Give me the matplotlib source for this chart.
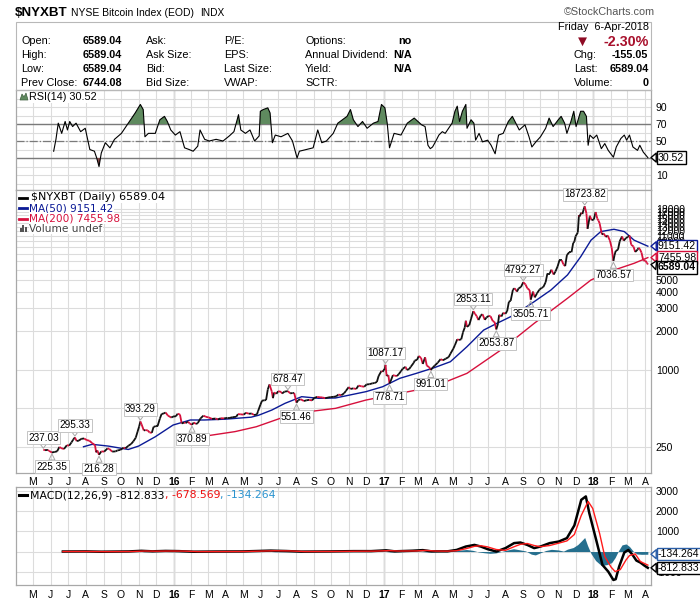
import matplotlib
matplotlib.use("Agg")
import matplotlib.pyplot as plt
import matplotlib.dates as mdates
from matplotlib.collections import LineCollection
from matplotlib.patches import Rectangle, Polygon
from matplotlib.lines import Line2D
from matplotlib.ticker import NullLocator
import numpy as np

# ---- data ----
price_dates = [
    "2015-05-19", "2015-05-22", "2015-05-27", "2015-05-29", "2015-06-03", "2015-06-08", "2015-06-12", "2015-06-16",
    "2015-06-19", "2015-06-24", "2015-06-29", "2015-07-03", "2015-07-07", "2015-07-10", "2015-07-13", "2015-07-16",
    "2015-07-20", "2015-07-24", "2015-07-29", "2015-08-03", "2015-08-07", "2015-08-12", "2015-08-17", "2015-08-19",
    "2015-08-21", "2015-08-24", "2015-08-28", "2015-09-02", "2015-09-08", "2015-09-11", "2015-09-16", "2015-09-22",
    "2015-09-25", "2015-09-30", "2015-10-06", "2015-10-09", "2015-10-14", "2015-10-19", "2015-10-23", "2015-10-27",
    "2015-10-30", "2015-11-02", "2015-11-04", "2015-11-06", "2015-11-10", "2015-11-13", "2015-11-17", "2015-11-20",
    "2015-11-24", "2015-11-27", "2015-12-01", "2015-12-04", "2015-12-08", "2015-12-11", "2015-12-15", "2015-12-18",
    "2015-12-22", "2015-12-28", "2015-12-31", "2016-01-05", "2016-01-08", "2016-01-12", "2016-01-15", "2016-01-19",
    "2016-01-22", "2016-01-26", "2016-01-29", "2016-02-02", "2016-02-05", "2016-02-09", "2016-02-12", "2016-02-17",
    "2016-02-22", "2016-02-26", "2016-03-02", "2016-03-08", "2016-03-14", "2016-03-18", "2016-03-23", "2016-03-29",
    "2016-04-04", "2016-04-08", "2016-04-13", "2016-04-19", "2016-04-22", "2016-04-27", "2016-05-02", "2016-05-06",
    "2016-05-11", "2016-05-16", "2016-05-20", "2016-05-25", "2016-05-27", "2016-05-31", "2016-06-03", "2016-06-07",
    "2016-06-10", "2016-06-13", "2016-06-16", "2016-06-20", "2016-06-22", "2016-06-24", "2016-06-28", "2016-07-01",
    "2016-07-06", "2016-07-08", "2016-07-12", "2016-07-18", "2016-07-22", "2016-07-26", "2016-07-29", "2016-08-02",
    "2016-08-05", "2016-08-09", "2016-08-15", "2016-08-19", "2016-08-24", "2016-08-29", "2016-09-02", "2016-09-07",
    "2016-09-12", "2016-09-16", "2016-09-21", "2016-09-26", "2016-09-30", "2016-10-05", "2016-10-10", "2016-10-14",
    "2016-10-19", "2016-10-24", "2016-10-27", "2016-11-01", "2016-11-04", "2016-11-09", "2016-11-14", "2016-11-18",
    "2016-11-23", "2016-11-28", "2016-12-02", "2016-12-07", "2016-12-12", "2016-12-16", "2016-12-20", "2016-12-23",
    "2016-12-28", "2016-12-30", "2017-01-03", "2017-01-04", "2017-01-06", "2017-01-09", "2017-01-11", "2017-01-13",
    "2017-01-17", "2017-01-20", "2017-01-24", "2017-01-27", "2017-01-31", "2017-02-03", "2017-02-08", "2017-02-10",
    "2017-02-14", "2017-02-17", "2017-02-22", "2017-02-24", "2017-02-28", "2017-03-03", "2017-03-07", "2017-03-10",
    "2017-03-14", "2017-03-17", "2017-03-21", "2017-03-24", "2017-03-28", "2017-03-31", "2017-04-05", "2017-04-10",
    "2017-04-14", "2017-04-19", "2017-04-24", "2017-04-27", "2017-05-02", "2017-05-05", "2017-05-09", "2017-05-12",
    "2017-05-16", "2017-05-19", "2017-05-22", "2017-05-24", "2017-05-26", "2017-05-30", "2017-06-02", "2017-06-06",
    "2017-06-09", "2017-06-12", "2017-06-15", "2017-06-19", "2017-06-22", "2017-06-26", "2017-06-29", "2017-07-03",
    "2017-07-06", "2017-07-10", "2017-07-13", "2017-07-16", "2017-07-19", "2017-07-21", "2017-07-25", "2017-07-28",
    "2017-08-01", "2017-08-04", "2017-08-07", "2017-08-10", "2017-08-14", "2017-08-17", "2017-08-21", "2017-08-24",
    "2017-08-28", "2017-09-01", "2017-09-05", "2017-09-08", "2017-09-12", "2017-09-14", "2017-09-18", "2017-09-21",
    "2017-09-25", "2017-09-29", "2017-10-03", "2017-10-06", "2017-10-10", "2017-10-13", "2017-10-17", "2017-10-20",
    "2017-10-24", "2017-10-27", "2017-10-31", "2017-11-03", "2017-11-07", "2017-11-10", "2017-11-13", "2017-11-16",
    "2017-11-20", "2017-11-24", "2017-11-27", "2017-11-29", "2017-12-01", "2017-12-05", "2017-12-07", "2017-12-08",
    "2017-12-11", "2017-12-13", "2017-12-15", "2017-12-17", "2017-12-20", "2017-12-22", "2017-12-26", "2017-12-29",
    "2018-01-02", "2018-01-05", "2018-01-08", "2018-01-10", "2018-01-12", "2018-01-16", "2018-01-19", "2018-01-23",
    "2018-01-26", "2018-01-30", "2018-02-02", "2018-02-05", "2018-02-07", "2018-02-09", "2018-02-13", "2018-02-16",
    "2018-02-20", "2018-02-23", "2018-02-27", "2018-03-02", "2018-03-05", "2018-03-08", "2018-03-12", "2018-03-15",
    "2018-03-19", "2018-03-21", "2018-03-23", "2018-03-26", "2018-03-29", "2018-04-02", "2018-04-04", "2018-04-05",
    "2018-04-06",
]
price_close = [
    237.03, 235, 236, 232, 225.35, 228, 230, 249,
    244, 240, 257, 255, 270, 284, 295.33, 277,
    279, 288, 290, 281, 279, 267, 257, 226,
    234, 216.28, 230, 229, 243, 240, 229, 230,
    234, 236, 246, 243, 254, 263, 276, 294,
    326, 361, 393.29, 375, 335, 337, 335, 323,
    321, 357, 362, 362, 414, 450, 455, 462,
    437, 422, 430, 432, 452, 446, 380, 385,
    383, 392, 379, 370.89, 386, 376, 382, 417,
    437, 428, 423, 412, 415, 408, 417, 416,
    420, 420, 425, 428, 449, 447, 445, 460,
    452, 454, 442, 446, 473, 530, 572, 575,
    578, 700, 765, 672, 598, 662, 646, 677,
    670, 650, 672, 678.47, 652, 655, 656, 551.46,
    576, 587, 568, 575, 580, 574, 600, 612,
    607, 606, 597, 605, 609, 612, 617, 638,
    630, 653, 681, 730, 705, 713, 705, 750,
    740, 734, 765, 768, 780, 785, 800, 890,
    975, 960, 1020, 1087.17, 890, 905, 778.71, 812,
    905, 895, 890, 920, 970, 1015, 1050, 995,
    1005, 1050, 1125, 1175, 1190, 1275, 1230, 1105,
    1245, 1070, 1045, 991.01, 1045, 1075, 1130, 1205,
    1180, 1215, 1250, 1325, 1450, 1550, 1720, 1700,
    1720, 1950, 2120, 2400, 2150, 2220, 2480, 2853.11,
    2720, 2600, 2430, 2640, 2700, 2440, 2550, 2620,
    2600, 2380, 2350, 2053.87, 2280, 2670, 2590, 2770,
    2720, 2860, 3380, 3430, 4200, 4300, 4050, 4300,
    4400, 4792.27, 4600, 4300, 4170, 3505.71, 4050, 3650,
    3930, 4190, 4330, 4400, 4800, 5600, 5600, 6000,
    5500, 5800, 6400, 7100, 7100, 6600, 6400, 7800,
    8200, 8200, 9700, 9900, 10900, 11700, 16000, 15600,
    16700, 16300, 17600, 18723.82, 16500, 12500, 15800, 14600,
    14800, 16900, 15000, 14500, 13800, 11300, 11500, 10800,
    11100, 10100, 8900, 7036.57, 7800, 8400, 8600, 10000,
    10900, 10100, 10600, 10800, 11100, 9400, 9100, 8250,
    8600, 8900, 8700, 8150, 7100, 7050, 6800, 6744.08,
    6589.04,
]

ma50_dates = ["2015-07-28", "2015-08-12", "2015-09-09", "2015-10-14", "2015-11-01", "2015-11-30", "2015-12-31",
              "2016-01-30", "2016-02-23", "2016-03-31", "2016-05-15", "2016-05-28", "2016-06-20", "2016-07-13",
              "2016-08-11", "2016-09-10", "2016-10-09", "2016-12-01", "2016-12-30", "2017-01-29", "2017-02-27",
              "2017-03-29", "2017-04-27", "2017-05-26", "2017-06-24", "2017-07-17", "2017-08-16", "2017-09-20",
              "2017-10-19", "2017-11-17", "2017-12-10", "2017-12-28", "2018-01-14", "2018-02-06", "2018-02-24",
              "2018-03-13", "2018-04-06"]
ma50_vals = [250, 261, 253, 238, 253, 299, 369,
             404, 404, 410, 425, 440, 483, 545,
             614, 596, 600, 672, 734, 854, 934,
             1030, 1150, 1507, 2030, 2290, 2660, 3380,
             4160, 5460, 7570, 10200, 11900, 12400, 11900,
             10200, 9151.42]

ma200_dates = ["2016-03-01", "2016-04-17", "2016-05-24", "2016-07-13", "2016-08-23", "2016-10-09", "2016-12-01",
               "2017-01-29", "2017-03-29", "2017-05-26", "2017-07-24", "2017-09-20", "2017-11-17", "2017-12-28",
               "2018-02-06", "2018-03-13", "2018-04-06"]
ma200_vals = [305, 328, 358, 429, 469, 498, 578,
              652, 735, 934, 1419, 2290, 3590, 4990,
              5960, 6730, 7455.98]

swing_highs = ["2015-05-19", "2015-07-13", "2015-11-04", "2016-07-18", "2017-01-04", "2017-06-06",
               "2017-09-01", "2017-12-17"]
swing_lows = ["2015-06-03", "2015-08-24", "2016-02-02", "2016-08-02", "2017-01-11", "2017-03-24",
              "2017-07-16", "2017-09-14", "2018-02-05"]

rsi_dates = [
    "2015-06-06", "2015-06-10", "2015-06-14", "2015-06-20", "2015-06-26", "2015-06-30", "2015-07-04", "2015-07-09",
    "2015-07-15", "2015-07-23", "2015-07-31", "2015-08-08", "2015-08-16", "2015-08-20", "2015-08-24", "2015-08-28",
    "2015-09-04", "2015-09-12", "2015-09-20", "2015-10-02", "2015-10-14", "2015-10-26", "2015-11-04", "2015-11-09",
    "2015-11-12", "2015-11-18", "2015-11-30", "2015-12-08", "2015-12-16", "2015-12-21", "2015-12-27", "2016-01-04",
    "2016-01-12", "2016-01-20", "2016-01-28", "2016-02-04", "2016-02-12", "2016-02-16", "2016-02-24", "2016-03-03",
    "2016-03-15", "2016-03-27", "2016-04-07", "2016-04-15", "2016-04-23", "2016-04-27", "2016-05-05", "2016-05-13",
    "2016-05-21", "2016-05-29", "2016-05-31", "2016-06-05", "2016-06-13", "2016-06-17", "2016-06-21", "2016-06-26",
    "2016-07-06", "2016-07-18", "2016-07-26", "2016-08-03", "2016-08-07", "2016-08-19", "2016-08-31", "2016-09-08",
    "2016-09-15", "2016-09-23", "2016-10-05", "2016-10-13", "2016-10-21", "2016-10-29", "2016-11-04", "2016-11-09",
    "2016-11-17", "2016-11-25", "2016-12-03", "2016-12-14", "2016-12-22", "2016-12-28", "2017-01-03", "2017-01-07",
    "2017-01-11", "2017-01-19", "2017-01-31", "2017-02-11", "2017-02-23", "2017-03-08", "2017-03-14", "2017-03-19",
    "2017-03-23", "2017-03-27", "2017-04-01", "2017-04-07", "2017-04-13", "2017-04-18", "2017-04-24", "2017-04-30",
    "2017-05-05", "2017-05-09", "2017-05-13", "2017-05-18", "2017-05-24", "2017-05-26", "2017-06-02", "2017-06-07",
    "2017-06-10", "2017-06-16", "2017-06-22", "2017-07-01", "2017-07-07", "2017-07-14", "2017-07-20", "2017-07-28",
    "2017-08-06", "2017-08-13", "2017-08-19", "2017-08-25", "2017-09-04", "2017-09-11", "2017-09-16", "2017-09-23",
    "2017-10-01", "2017-10-10", "2017-10-16", "2017-10-23", "2017-11-01", "2017-11-06", "2017-11-12", "2017-11-16",
    "2017-11-23", "2017-11-28", "2017-12-02", "2017-12-10", "2017-12-15", "2017-12-20", "2017-12-23", "2017-12-26",
    "2018-01-01", "2018-01-07", "2018-01-15", "2018-01-21", "2018-01-27", "2018-02-05", "2018-02-10", "2018-02-18",
    "2018-02-24", "2018-02-28", "2018-03-05", "2018-03-11", "2018-03-19", "2018-03-23", "2018-03-29", "2018-04-06",
]
rsi_vals = [
    38, 52, 71, 59, 73, 63, 73, 67,
    71, 61, 65, 40, 38, 30, 20, 36,
    48, 42, 52, 59, 71, 83, 93, 87,
    55, 59, 59, 75, 79, 73, 63, 57,
    61, 42, 40, 38, 44, 63, 52, 50,
    52, 50, 56, 61, 81, 63, 59, 63,
    50, 56, 85, 87, 89, 83, 48, 57,
    55, 59, 50, 30, 38, 40, 42, 63,
    48, 50, 59, 71, 75, 79, 87, 75,
    67, 73, 65, 71, 73, 93, 89, 71,
    42, 59, 57, 71, 77, 69, 67, 45,
    41, 43, 49, 57, 61, 59, 65, 71,
    85, 91, 73, 85, 93, 65, 75, 71,
    51, 59, 49, 51, 45, 35, 57, 59,
    73, 79, 71, 63, 69, 55, 43, 49,
    55, 65, 77, 67, 75, 79, 71, 59,
    73, 85, 67, 85, 85, 79, 45, 57,
    53, 57, 41, 47, 39, 31, 43, 53,
    57, 51, 57, 43, 39, 45, 37, 30.52,
]

macd_dates = ["2015-06-22", "2015-08-01", "2015-08-28", "2015-10-15", "2015-11-06", "2015-11-25", "2015-12-18",
              "2016-01-10", "2016-02-05", "2016-03-15", "2016-05-01", "2016-06-18", "2016-07-15", "2016-08-10",
              "2016-10-01", "2016-11-10", "2016-12-10", "2017-01-05", "2017-01-20", "2017-02-20", "2017-03-10",
              "2017-03-25", "2017-04-22", "2017-05-08", "2017-05-24", "2017-06-08", "2017-06-19", "2017-07-01",
              "2017-07-16", "2017-08-01", "2017-08-16", "2017-08-27", "2017-09-08", "2017-09-20", "2017-10-01",
              "2017-10-17", "2017-11-02", "2017-11-16", "2017-11-29", "2017-12-11", "2017-12-19", "2017-12-25",
              "2018-01-06", "2018-01-17", "2018-01-27", "2018-02-05", "2018-02-09", "2018-02-15", "2018-02-24",
              "2018-03-03", "2018-03-10", "2018-03-17", "2018-03-24", "2018-03-31", "2018-04-06"]
macd_vals = [0, 5, -10, 5, 35, 10, 30,
             20, -10, 0, 5, 45, 25, -5,
             5, 20, 20, 60, 10, 40, 70,
             10, 10, 80, 250, 330, 250, 117,
             0, 170, 420, 450, 330, 170, 250,
             420, 500, 670, 1300, 2580, 2750, 1920,
             580, -670, -1000, -1420, -1380, -750, -50,
             80, -150, -450, -550, -700, -812.833]

signal_dates = ["2015-06-22", "2015-08-01", "2015-09-05", "2015-10-20", "2015-11-12", "2015-12-01", "2015-12-24",
                "2016-01-18", "2016-02-12", "2016-03-20", "2016-05-05", "2016-06-24", "2016-07-22", "2016-08-16",
                "2016-10-05", "2016-11-16", "2016-12-16", "2017-01-10", "2017-01-26", "2017-02-26", "2017-03-15",
                "2017-04-01", "2017-04-22", "2017-05-08", "2017-05-24", "2017-06-08", "2017-06-19", "2017-07-01",
                "2017-07-16", "2017-08-01", "2017-08-16", "2017-08-27", "2017-09-08", "2017-09-20", "2017-10-01",
                "2017-10-17", "2017-11-02", "2017-11-16", "2017-11-29", "2017-12-11", "2017-12-23", "2017-12-31",
                "2018-01-12", "2018-01-21", "2018-02-01", "2018-02-08", "2018-02-17", "2018-02-27", "2018-03-05",
                "2018-03-15", "2018-03-24", "2018-04-06"]
signal_vals = [0, 3, -6, 2, 25, 18, 25,
               22, -4, -2, 3, 38, 30, 0,
               3, 15, 20, 45, 25, 30, 55,
               25, 20, 40, 140, 260, 290, 230,
               100, 60, 240, 360, 400, 300, 240,
               300, 420, 530, 850, 1800, 2500, 2150,
               900, -250, -780, -1000, -900, -420, -200,
               -120, -500, -678.569]

hist_dates = ["2015-06-22", "2015-11-01", "2015-11-10", "2015-12-10", "2016-01-15", "2016-06-10", "2016-06-25",
              "2016-11-05", "2016-12-28", "2017-01-12", "2017-02-25", "2017-03-20", "2017-04-10", "2017-04-25",
              "2017-05-10", "2017-05-25", "2017-06-05", "2017-06-15", "2017-06-25", "2017-07-05", "2017-07-15",
              "2017-07-25", "2017-08-05", "2017-08-15", "2017-08-25", "2017-09-05", "2017-09-15", "2017-09-22",
              "2017-10-01", "2017-10-10", "2017-10-20", "2017-11-01", "2017-11-10", "2017-11-17", "2017-11-27",
              "2017-12-05", "2017-12-12", "2017-12-17", "2017-12-22", "2017-12-28", "2018-01-05", "2018-01-15",
              "2018-01-25", "2018-02-02", "2018-02-08", "2018-02-14", "2018-02-20", "2018-02-27", "2018-03-05",
              "2018-03-12", "2018-03-18", "2018-03-26", "2018-04-06"]
hist_vals = [0, 15, -10, 15, -10, 20, -15,
             10, 25, -25, 15, -30, 0, 30,
             60, 100, 60, -20, -60, -90, -70,
             0, 80, 140, 90, 30, -130, -170,
             -60, 50, 110, 80, 20, 120, 200,
             350, 550, 700, 300, -100, -450, -700,
             -650, -550, -300, 50, 330, 380, 250,
             0, -120, -140, -134.264]

price_ticks = [250, 500, 1000, 2000, 3000, 4000, 5000, 6000, 7000, 8000, 9000, 10000, 11000,
               12000, 13000, 14000, 15000, 16000, 17000, 18000]
price_tick_labels = ["250", "", "1000", "2000", "3000", "4000", "5000", "", "", "", "", "10000",
                     "11000", "12000", "13000", "14000", "15000", "16000", "17000", "18000"]
rsi_ticks = [10, 50, 70, 90]
macd_ticks = [-1000, 0, 1000, 2000, 3000]
month_letters = ["J", "F", "M", "A", "M", "J", "J", "A", "S", "O", "N", "D"]

# ---- layout helpers (pixel positions of the 700x603 picture) ----
W, H = 700, 603
plt.rcParams["font.family"] = ["Liberation Sans", "DejaVu Sans"]
plt.rcParams["axes.unicode_minus"] = False
INFO_FS = 7.8


def fp(x, y):
    return (x / W, 1 - y / H)


def rect(x0, y0, x1, y1):
    return [x0 / W, 1 - y1 / H, (x1 - x0) / W, (y1 - y0) / H]


def dn(lst):
    return mdates.date2num(np.array(lst, dtype="datetime64[D]"))


GRID = "#dcdcdc"
YEARGRID = "#b4b4b4"
SPINE = "#a8a8a8"
RED = "#d6103c"
NAVY = "#0b1a96"
TEAL = "#256f8e"

fig = plt.figure(figsize=(W / 100, H / 100), dpi=100)

# ---- header ----
fig.text(*fp(15, 12.5), "$NYXBT", fontsize=9.6, fontweight="bold", va="center")
fig.text(*fp(71, 13), "NYSE Bitcoin Index (EOD)", fontsize=7.5, va="center")
fig.text(*fp(200, 13), "INDX", fontsize=7.3, va="center")
fig.text(*fp(655, 12), "\u00a9StockCharts.com", fontsize=7.8, va="center", ha="right", color="#555555")
fig.add_artist(Rectangle(fp(16, 90), 635 / W, 68.5 / H, transform=fig.transFigure,
                         fill=False, ec="#b8b8b8", lw=0.8))

rows = [41.5, 55.3, 69.3, 83.3]
info_cols = [
    (21, ["Open:", "High:", "Low:", "Prev Close:"], "normal"),
    (83, ["6589.04", "6589.04", "6589.04", "6744.08"], "bold"),
    (146, ["Ask:", "Ask Size:", "Bid:", "Bid Size:"], "normal"),
    (224, ["P/E:", "EPS:", "Last Size:", "VWAP:"], "normal"),
    (305, ["Options:", "Annual Dividend:", "Yield:", "SCTR:"], "normal"),
]
for x, texts, weight in info_cols:
    for y, t in zip(rows, texts):
        fig.text(*fp(x, y), t, fontsize=INFO_FS, fontweight=weight, va="center")
fig.text(*fp(398, rows[0]), "no", fontsize=INFO_FS, fontweight="bold", va="center")
fig.text(*fp(393, rows[1]), "N/A", fontsize=INFO_FS, fontweight="bold", va="center")
fig.text(*fp(393, rows[2]), "N/A", fontsize=INFO_FS, fontweight="bold", va="center")

fig.text(*fp(648.5, 27), "Friday  6-Apr-2018", fontsize=INFO_FS, va="center", ha="right")
fig.text(*fp(582, rows[0] + 0.5), "\u25bc", fontsize=11, va="center", ha="center", color="#8e0b24")
fig.text(*fp(648.5, rows[0]), "-2.30%", fontsize=10.3, fontweight="bold", va="center",
         ha="right", color="#a8102c")
for y, lab, val in zip(rows[1:], ["Chg:", "Last:", "Volume:"], ["-155.05", "6589.04", "0"]):
    fig.text(*fp(574, y), lab, fontsize=INFO_FS, va="center")
    fig.text(*fp(648.5, y), val, fontsize=INFO_FS, fontweight="bold", va="center", ha="right")

# ---- axes ----
ax_rsi = fig.add_axes(rect(16, 90, 651, 190))
ax = fig.add_axes(rect(16, 190, 651, 473))
ax_macd = fig.add_axes(rect(16, 487, 651, 585))

xmin = dn(["2015-04-01"])[0] + 0.4
xmax = dn(["2018-04-11"])[0] + 0.5
months = np.arange(np.datetime64("2015-05"), np.datetime64("2018-05"), np.timedelta64(1, "M"))
month_x = mdates.date2num(months.astype("datetime64[D]"))
month_labels = []
for m in months:
    mi = int(str(m)[5:7])
    month_labels.append(str(m)[2:4] if mi == 1 else month_letters[mi - 1])

for a in (ax_rsi, ax, ax_macd):
    a.set_xlim(xmin, xmax)
    a.set_xticks(month_x)
    a.grid(axis="x", color=GRID, lw=0.8, zorder=0)
    for mx, lab in zip(month_x, month_labels):
        if lab.isdigit():
            a.axvline(mx, color=YEARGRID, lw=1.0, zorder=0.5)
    a.yaxis.tick_right()
    a.tick_params(length=0, labelsize=7.5, colors="black")
    for s in a.spines.values():
        s.set_color(SPINE)
        s.set_linewidth(0.9)
    a.set_axisbelow(True)

ax_rsi.set_xticklabels([])
for a, pad in ((ax, 3.0), (ax_macd, 3.5)):
    a.set_xticklabels(month_labels)
    a.tick_params(axis="x", pad=pad, labelsize=7.5)
    for t, lab in zip(a.get_xticklabels(), month_labels):
        if lab.isdigit():
            t.set_fontweight("bold")

# ---- RSI panel ----
rx = dn(rsi_dates)
rv = np.array(rsi_vals)
ax_rsi.set_ylim(-7.6, 110)
ax_rsi.set_yticks(rsi_ticks)
ax_rsi.set_yticklabels([str(t) for t in rsi_ticks])
for lvl in range(0, 101, 10):
    ax_rsi.axhline(lvl, color=GRID, lw=0.8, zorder=0)
ax_rsi.axhline(70, color="#7a7a7a", lw=1.0, zorder=1)
ax_rsi.axhline(30, color="#7a7a7a", lw=1.0, zorder=1)
ax_rsi.axhline(50, color="#7a7a7a", lw=0.9, ls="-.", zorder=1)
ax_rsi.fill_between(rx, 70, rv, where=rv >= 70, interpolate=True, color="#5f8a5f", lw=0, zorder=2)
ax_rsi.fill_between(rx, 30, rv, where=rv <= 30, interpolate=True, color="#8a4a4a", lw=0, zorder=2)
ax_rsi.plot(rx, rv, color="black", lw=0.8, zorder=3)


def tag(a, val, text, ec, dy=0, bold=False, tc="black"):
    a.annotate(text, xy=(1, val), xycoords=("axes fraction", "data"), xytext=(7, dy),
               textcoords="offset pixels", ha="left", va="center", fontsize=7.6,
               fontweight="bold" if bold else "normal", color=tc, annotation_clip=False, zorder=20,
               bbox=dict(boxstyle="square,pad=0.12", fc="white", ec=ec, lw=1.0),
               arrowprops=dict(arrowstyle="wedge,tail_width=0.85", fc="white", ec=ec, lw=1.0,
                               shrinkA=0, shrinkB=0))


tag(ax_rsi, rsi_vals[-1], f"{rsi_vals[-1]:.2f}", "black")
ax_rsi.text(0.021, 0.975, "RSI(14) 30.52", transform=ax_rsi.transAxes, fontsize=7.8, va="top",
            bbox=dict(fc="white", ec="none", pad=0.6))
fig.add_artist(Polygon([fp(20, 100), fp(22, 94), fp(24, 97), fp(26, 93), fp(28, 100)], closed=True,
                       transform=fig.transFigure, fc="#5f8a5f", ec="#3f5f3f", lw=0.5))

# ---- price panel ----
px_ = dn(price_dates)
pv = np.array(price_close)
ax.set_yscale("log")
ax.set_ylim(156, 25100)
ax.set_yticks(price_ticks)
ax.set_yticklabels(price_tick_labels)
ax.yaxis.set_minor_locator(NullLocator())
ax.grid(axis="y", color=GRID, lw=0.8, zorder=0)

pts = np.column_stack([px_, pv])
segs = np.stack([pts[:-1], pts[1:]], axis=1)
seg_colors = ["#111111" if pv[i + 1] >= pv[i] else RED for i in range(len(pv) - 1)]
ax.add_collection(LineCollection(segs, colors=seg_colors, linewidths=1.3, zorder=4))
ax.plot(dn(ma50_dates), ma50_vals, color=NAVY, lw=1.0, zorder=3)
ax.plot(dn(ma200_dates), ma200_vals, color=RED, lw=1.0, zorder=3)

lookup = dict(zip(price_dates, price_close))
box = dict(boxstyle="square,pad=0.12", fc="white", ec="#c4c4c4", lw=0.7)
wedge = dict(arrowstyle="wedge,tail_width=0.6", fc="none", ec="#a8a8a8", lw=0.7, shrinkA=0, shrinkB=1)
for d in swing_highs:
    v = lookup[d]
    ax.annotate(f"{v:.2f}", xy=(dn([d])[0], v), xytext=(0, 7), textcoords="offset pixels", ha="center",
                va="bottom", fontsize=7.2, bbox=box, arrowprops=wedge, zorder=6)
for d in swing_lows:
    v = lookup[d]
    ax.annotate(f"{v:.2f}", xy=(dn([d])[0], v), xytext=(0, -9), textcoords="offset pixels", ha="center",
                va="top", fontsize=7.2, bbox=box, arrowprops=wedge, zorder=6)

tag(ax, ma50_vals[-1], f"{ma50_vals[-1]:.2f}", NAVY)
tag(ax, ma200_vals[-1], f"{ma200_vals[-1]:.2f}", RED)
tag(ax, price_close[-1], f"{price_close[-1]:.2f}", "black", dy=-3, bold=True)

legend_items = [(197.5, "$NYXBT (Daily) 6589.04", "black", 31, 8.0),
                (208.3, "MA(50) 9151.42", NAVY, 29, 7.6),
                (218.8, "MA(200) 7455.98", RED, 29, 7.6)]
for y, txt, col, x0, fs in legend_items:
    fig.add_artist(Line2D([19 / W, 27 / W], [1 - y / H, 1 - y / H], color=col, lw=2,
                          transform=fig.transFigure))
    fig.text(*fp(x0, y), txt, color=col, fontsize=fs, va="center", family=["DejaVu Sans"],
             bbox=dict(fc="white", ec="none", pad=0.3))
for bx, bh in ((19.5, 4), (22, 7), (24.5, 5)):
    fig.add_artist(Rectangle(fp(bx, 232), 2 / W, bh / H, transform=fig.transFigure, fc="#555555", ec="none"))
fig.text(*fp(29, 229), "Volume undef", color="#444444", fontsize=7.6, va="center", family=["DejaVu Sans"],
         bbox=dict(fc="white", ec="none", pad=0.3))

# ---- MACD panel ----
ax_macd.set_ylim(-1670, 3220)
ax_macd.set_yticks(macd_ticks)
ax_macd.set_yticklabels([str(t) for t in macd_ticks])
ax_macd.grid(axis="y", color=GRID, lw=0.8, zorder=0)
hx = dn(hist_dates)
ax_macd.fill_between(hx, 0, hist_vals, color=TEAL, lw=0, zorder=2)
ax_macd.plot(dn(signal_dates), signal_vals, color="#ff1a1a", lw=1.0, zorder=4)
ax_macd.plot(dn(macd_dates), macd_vals, color="black", lw=1.8, zorder=3)
tag(ax_macd, hist_vals[-1], f"{hist_vals[-1]:.3f}", "#2a5ea8")
tag(ax_macd, macd_vals[-1], f"{macd_vals[-1]:.3f}", "black")

fig.add_artist(Line2D([19 / W, 27 / W], [1 - 495 / H, 1 - 495 / H], color="black", lw=2.2,
                      transform=fig.transFigure))
t1 = fig.text(*fp(30.5, 495), "MACD(12,26,9) -812.833", fontsize=7.8, va="center", family=["DejaVu Sans"])
t2 = ax_macd.annotate(", -678.569", xy=(1, 0), xycoords=t1, va="bottom", fontsize=7.8, color="#ee1111",
                      family=["DejaVu Sans"])
ax_macd.annotate(", -134.264", xy=(1, 0), xycoords=t2, va="bottom", fontsize=7.8, color="#2a93cf",
                 family=["DejaVu Sans"])

fig.savefig("out.png", dpi=100)
